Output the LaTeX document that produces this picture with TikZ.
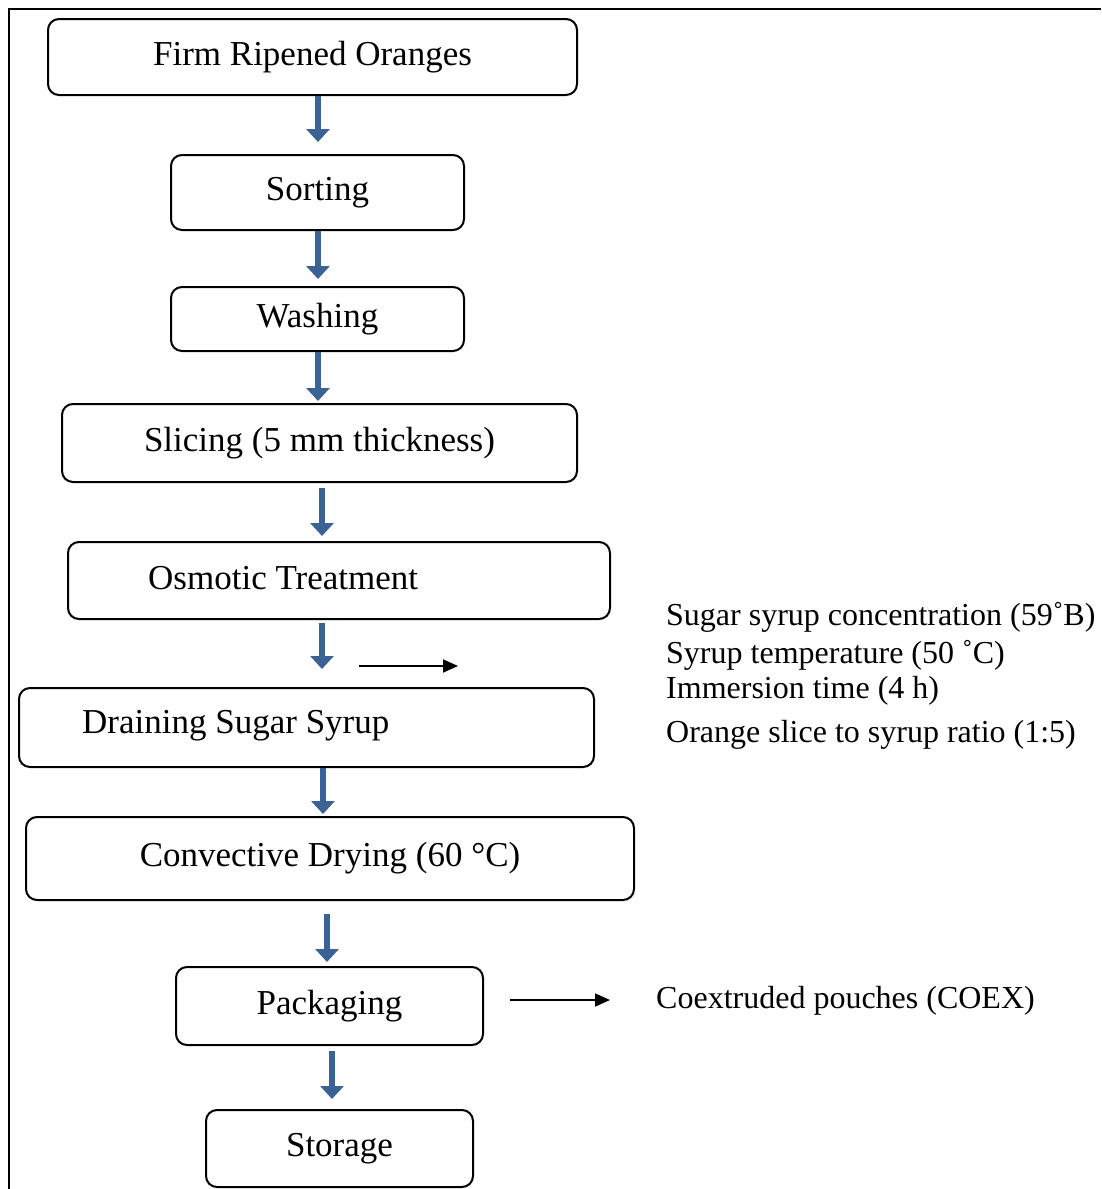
\documentclass[tikz,border=0pt]{standalone}
\usepackage{fontspec}
\setmainfont{Liberation Serif}
\usetikzlibrary{arrows.meta}
\definecolor{arrowblue}{RGB}{58,98,148}
\tikzset{
  x=1pt, y=-1pt,
  stepbox/.style={draw=black, line width=2pt, rounded corners=11pt, inner sep=0pt},
  boxtext/.style={font=\fontsize{35}{40}\selectfont, inner sep=0pt},
  sidetext/.style={font=\fontsize{32}{36}\selectfont, inner sep=0pt, anchor=west},
  barrow/.style={draw=arrowblue, line width=6pt, -{Triangle[width=23pt,length=13pt,fill=arrowblue]}},
  karrow/.style={draw=black, line width=1.8pt, -{Triangle[width=13pt,length=15pt]}},
}
\begin{document}
\begin{tikzpicture}
\useasboundingbox (0,0) rectangle (1101,1189);
% frame
\draw[line width=2.2pt] (9,1189) -- (9,9) -- (1101,9);

% boxes (centre, width, height from pixel extents)
\node[stepbox, boxtext, minimum width=529pt, minimum height=76pt] (n1) at (312.5,57) {Firm Ripened Oranges};
\node[stepbox, boxtext, minimum width=293pt, minimum height=75pt] (n2) at (317.5,192.5) {Sorting};
\node[stepbox, boxtext, minimum width=293pt, minimum height=64pt] (n3) at (317.5,319) {Washing};
\node[stepbox, boxtext, minimum width=515pt, minimum height=78pt] (n4) at (319.5,443) {Slicing (5 mm thickness)};
\node[stepbox, minimum width=542pt, minimum height=77pt] (n5) at (339,580.5) {};
\node[boxtext, anchor=west] (t5) at (148,578) {Osmotic Treatment};
\node[stepbox, minimum width=575pt, minimum height=79pt] (n6) at (306.5,727.5) {};
\node[boxtext, anchor=west] (t6) at (82,726) {Draining Sugar Syrup};
\node[stepbox, boxtext, minimum width=608pt, minimum height=83pt] (n7) at (330,858.5) {Convective Drying (60 °C)};
\node[stepbox, boxtext, minimum width=307pt, minimum height=78pt] (n8) at (329.5,1006) {Packaging};
\node[stepbox, boxtext, minimum width=267pt, minimum height=77pt] (n9) at (339.5,1148.5) {Storage};

% side texts
\node[sidetext] (s1) at (666,617) {Sugar syrup concentration (59˚B)};
\node[sidetext] (s2) at (666,655) {Syrup temperature (50 ˚C)};
\node[sidetext] (s3) at (666,691) {Immersion time (4 h)};
\node[sidetext] (s4) at (666,735) {Orange slice to syrup ratio (1:5)};
\node[sidetext] (s5) at (656,1001) {Coextruded pouches (COEX)};

% blue flow arrows
\coordinate (c1) at (318,0);
\coordinate (c2) at (322,0);
\coordinate (c3) at (323,0);
\coordinate (c4) at (327,0);
\coordinate (c5) at (332,0);
\draw[barrow, shorten >=12pt] (n1.south -| c1) -- (n2.north -| c1);
\draw[barrow, shorten >=7pt] (n2.south -| c1) -- (n3.north -| c1);
\draw[barrow, shorten >=2pt] (n3.south -| c1) -- (n4.north -| c1);
\draw[barrow, shorten <=5pt, shorten >=5pt] (n4.south -| c2) -- (n5.north -| c2);
\draw[barrow, shorten <=3pt, shorten >=18pt] (n5.south -| c2) -- (n6.north -| c2);
\draw[barrow, shorten >=2pt] (n6.south -| c3) -- (n7.north -| c3);
\draw[barrow, shorten <=13pt, shorten >=4pt] (n7.south -| c4) -- (n8.north -| c4);
\draw[barrow, shorten <=5pt, shorten >=10pt] (n8.south -| c5) -- (n9.north -| c5);

% black side arrows
\coordinate (a1s) at (359,666);
\coordinate (a1e) at (458,666);
\draw[karrow] (a1s) -- (a1e);
\coordinate (a2e) at (610,1000);
\draw[karrow] (n8.east |- a2e) ++(26,0) -- (a2e);
\end{tikzpicture}
\end{document}
